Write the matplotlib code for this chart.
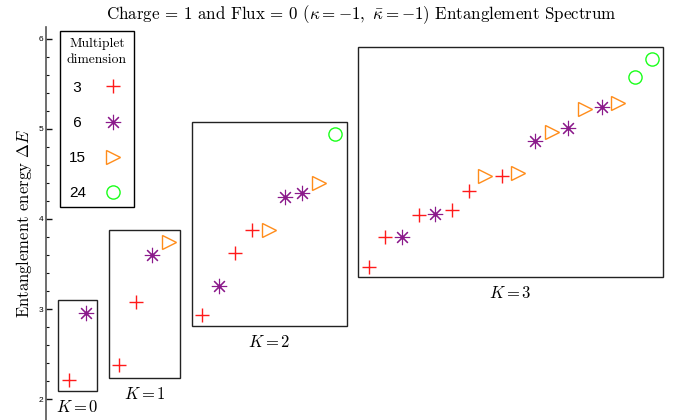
import numpy as np
import matplotlib.pyplot as plt
from matplotlib.patches import Rectangle

plt.rcParams['mathtext.fontset'] = 'cm'
plt.rcParams['axes.unicode_minus'] = False

# levels, x = position in the spectrum (gaps between K sectors)
x3 = [0, 3, 4, 8, 10, 11, 18, 19, 21, 23, 24, 26]
y3 = [2.21, 2.38, 3.08, 2.94, 3.62, 3.88, 3.47, 3.80, 4.04, 4.10, 4.31, 4.48]

x6 = [1, 5, 9, 13, 14, 20, 22, 28, 30, 32]
y6 = [2.96, 3.60, 3.26, 4.24, 4.29, 3.80, 4.06, 4.87, 5.01, 5.24]

x15 = [6, 12, 15, 25, 27, 29, 31, 33]
y15 = [3.74, 3.88, 4.40, 4.48, 4.51, 4.96, 5.22, 5.29]

x24 = [16, 34, 35]
y24 = [4.94, 5.57, 5.78]

# K sector boxes
K_vals = [0, 1, 2, 3]
box_left = [-0.66, 2.40, 7.39, 17.36]
box_right = [1.68, 6.67, 16.70, 35.68]
box_bottom = [2.09, 2.24, 2.81, 3.36]
box_top = [3.10, 3.88, 5.08, 5.91]

fig = plt.figure(figsize=(6.79, 4.20), dpi=100)
ax = fig.add_axes([46/679, 0, 625/679, 393/420])

ax.plot(x3, y3, ls='none', marker='+', ms=10, mew=1.0, color='#ff1a1a', label=' 3 ')
ax.plot(x6, y6, ls='none', marker=(8, 2, 0), ms=11, mew=0.8, color='#8b1a8b', label=' 6 ')
ax.plot(x6, y6, ls='none', marker='o', ms=2, color='#8b1a8b')
ax.plot(x15, y15, ls='none', marker='>', ms=10, mew=1.0, mfc='none', color='#ff8c1a', label='15')
ax.plot(x24, y24, ls='none', marker='o', ms=9.5, mew=1.0, mfc='none', color='#1aff1a', label='24')

for k, l, r, b, t in zip(K_vals, box_left, box_right, box_bottom, box_top):
    ax.add_patch(Rectangle((l, b), r - l, t - b, fill=False, ec='#222222', lw=1.0))
    ax.text((l + r) / 2, b - 0.18, '$K=%d$' % k, ha='center', va='center', fontsize=12)

ax.set_xlim(-1.38, 36.16)
ax.set_ylim(1.77, 6.13)
ax.set_yticks([2, 3, 4, 5, 6])
ax.set_yticks(np.arange(2, 6.01, 0.2), minor=True)
ax.tick_params(axis='y', which='major', direction='in', length=4, width=1, labelsize=6, pad=2, color='#111111')
ax.tick_params(axis='y', which='minor', direction='in', length=2, width=0.8, color='#111111')
ax.set_xticks([])
for s in ['top', 'right', 'bottom']:
    ax.spines[s].set_visible(False)
ax.spines['left'].set_color('#555555')
ax.spines['left'].set_linewidth(1.2)
for t in ax.get_yticklabels():
    t.set_family('Liberation Sans')

ax.set_ylabel(r'Entanglement energy $\Delta E$', family='cmr10', fontsize=12, labelpad=3)
fig.text(361/679, 1 - 15/420, r'Charge = 1 and Flux = 0 ($\kappa=-1,\ \bar{\kappa}=-1$) Entanglement Spectrum',
         family='cmr10', fontsize=12.2, ha='center', va='center')

leg = ax.legend(loc='upper left', bbox_to_anchor=(60/679, 1 - 31/420), bbox_transform=fig.transFigure,
                borderaxespad=0, markerfirst=False, fancybox=False, framealpha=1, edgecolor='black',
                title='Multiplet\ndimension', prop={'family': 'Liberation Sans', 'size': 11},
                title_fontproperties={'family': 'cmr10', 'size': 9.8}, alignment='center',
                labelspacing=1.38, handlelength=1.5, handletextpad=1.0, borderpad=0.45)
leg.get_title().set_multialignment('center')
leg.get_title().set_linespacing(1.45)
leg.get_frame().set_linewidth(1.0)
leg._legend_box.sep = 10.5  # tighter gap under the title

fig.savefig('out.png', dpi=100)
